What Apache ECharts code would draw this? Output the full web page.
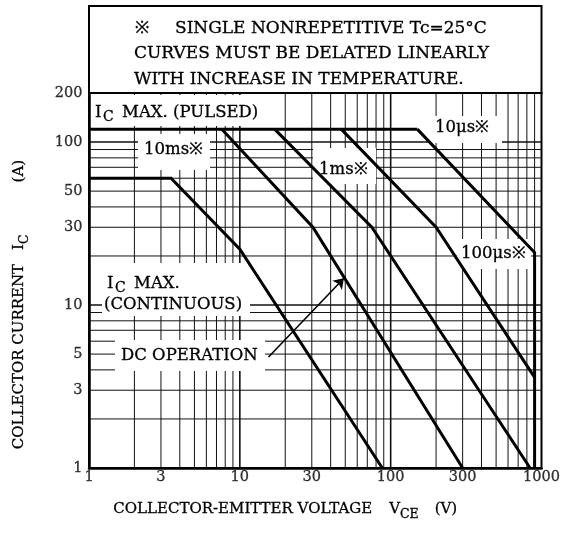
<!DOCTYPE html>
<html>
<head>
<meta charset="utf-8">
<script src="https://cdn.jsdelivr.net/npm/echarts@6/dist/echarts.min.js"></script>
<style>html,body{margin:0;padding:0;background:#fff}#c{width:564px;height:533px}</style>
</head>
<body>
<div id="c"></div>
<script>
// ---- data ----
const xTickValues = [1, 3, 10, 30, 100, 300, 1000];
const yTickValues = [1, 3, 5, 10, 30, 50, 100, 200];
const xGridMinor = [2,3,4,5,6,7,8,9,20,30,40,50,60,70,80,90,200,300,400,500,600,700,800,900];
const xGridMajor = [10, 100];
const yGridMinor = [2,3,4,5,6,7,8,9,20,30,40,50,60,70,80,90];
const yGridMajor = [10, 100];
const icMaxPulsed = [[1, 120], [150, 120]];
const dcOperation = [[1, 60], [3.5, 60], [10, 22], [88, 1]];
const pulse10ms = [[7.6, 120], [30.5, 30], [300, 1]];
const pulse1ms = [[17, 120], [75, 30], [840, 1]];
const pulse100us = [[47, 120], [200, 30], [900, 3.6]];
const pulse10us = [[150, 120], [900, 21], [900, 1]];
const dcArrow = [[15.5, 4.8], [49, 14.6]];

const FONT = 'DejaVu Serif';
const X_MIN = 1, X_MAX = 1000, Y_MIN = 1, Y_MAX = 200;

const chart = echarts.init(document.getElementById('c'), null, {renderer: 'canvas'});

const series = [];
function gridSeries(vals, vertical, width) {
  vals.forEach(v => {
    series.push({
      type: 'line', silent: true, symbol: 'none', z: 1, animation: false,
      data: vertical ? [[v, Y_MIN], [v, Y_MAX]] : [[X_MIN, v], [X_MAX, v]],
      lineStyle: {color: '#111', width: width}
    });
  });
}
gridSeries(xGridMinor, true, 1);
gridSeries(xGridMajor, true, 1.6);
gridSeries(yGridMinor, false, 1);
gridSeries(yGridMajor, false, 1.6);

[icMaxPulsed, dcOperation, pulse10ms, pulse1ms, pulse100us, pulse10us].forEach(d => {
  series.push({
    type: 'line', silent: true, symbol: 'none', z: 5, animation: false,
    data: d, lineStyle: {color: '#000', width: 3, join: 'miter'}
  });
});

series.push({
  type: 'lines', coordinateSystem: 'cartesian2d', z: 5, silent: true, animation: false,
  symbol: ['none', 'arrow'], symbolSize: 10,
  lineStyle: {color: '#000', width: 1.6, opacity: 1},
  data: [{coords: dcArrow}]
});

const tickFont = {fontFamily: FONT, fontSize: 14.5, color: '#000', textBorderColor: '#000', textBorderWidth: 0.3};
series.push({
  type: 'scatter', silent: true, clip: false, z: 5, animation: false,
  symbolSize: 1, itemStyle: {color: 'transparent'},
  data: xTickValues.map(v => [v, Y_MIN]),
  label: Object.assign({show: true, position: 'bottom', distance: 1,
    formatter: p => String(p.value[0])}, tickFont)
});
series.push({
  type: 'scatter', silent: true, clip: false, z: 5, animation: false,
  symbolSize: 1, itemStyle: {color: 'transparent'},
  data: yTickValues.map(v => [X_MIN, v]),
  label: Object.assign({show: true, position: 'left', distance: 6,
    formatter: p => String(p.value[1])}, tickFont)
});

const richAxis = {
  n: {fontFamily: FONT, fontSize: 15, color: '#000', lineHeight: 23, verticalAlign: 'middle',
      textBorderColor: '#000', textBorderWidth: 0.3},
  s: {fontFamily: FONT, fontSize: 12.5, color: '#000', verticalAlign: 'bottom',
      textBorderColor: '#000', textBorderWidth: 0.3},
  g1: {width: 17, fontSize: 15, lineHeight: 23},
  g2: {width: 16, fontSize: 15, lineHeight: 23},
  h1: {width: 14, fontSize: 15, lineHeight: 23},
  h2: {width: 52, fontSize: 15, lineHeight: 23}
};

function whiteBox(x, y, w, h) {
  return {type: 'rect', z: 3, silent: true, shape: {x: x, y: y, width: w, height: h},
    style: {fill: '#fff'}};
}
function txt(x, y, text, size) {
  return {type: 'text', z: 4, silent: true,
    style: {x: x, y: y, text: text, fill: '#000', stroke: '#000', lineWidth: 0.3,
      font: size + 'px "' + FONT + '"', align: 'left', verticalAlign: 'middle'}};
}
const BOX = 17, LBL = 16.5, SUB = 14;

const graphics = [
  {type: 'rect', z: 3, silent: true, shape: {x: 89, y: 6, width: 452.5, height: 87},
    style: {fill: '#fff', stroke: '#000', lineWidth: 2}},
  txt(135, 29, '※', BOX),
  txt(175, 29, 'SINGLE NONREPETITIVE Tc=25°C', BOX),
  txt(134, 54, 'CURVES MUST BE DELATED LINEARLY', BOX),
  txt(134, 80, 'WITH INCREASE IN TEMPERATURE.', BOX),

  whiteBox(91, 95, 171, 31),
  txt(95, 113, 'I', LBL), txt(103, 117, 'C', SUB), txt(122, 113, 'MAX. (PULSED)', LBL),
  whiteBox(138, 134, 72, 36),
  txt(144, 150, '10ms※', LBL),
  whiteBox(313, 148, 63, 36),
  txt(319, 170, '1ms※', LBL),
  whiteBox(430, 116, 72, 27),
  txt(435, 128, '10μs※', LBL),
  whiteBox(457, 239, 74, 30),
  txt(461, 254, '100μs※', LBL),
  whiteBox(102, 263, 148, 53),
  txt(107, 284, 'I', LBL), txt(115, 288, 'C', SUB), txt(134, 284, 'MAX.', LBL),
  txt(104, 305, '(CONTINUOUS)', LBL),
  whiteBox(115, 340, 150, 31),
  txt(121, 356, 'DC OPERATION', LBL)
];

const option = {
  animation: false,
  textStyle: {fontFamily: FONT},
  grid: {left: 89, right: 22.5, top: 93, bottom: 65, show: true, borderColor: '#000', borderWidth: 2, backgroundColor: '#fff'},
  xAxis: {
    type: 'log', logBase: 10, min: X_MIN, max: X_MAX,
    axisLine: {show: true, lineStyle: {color: '#000', width: 2.5}},
    axisTick: {show: false}, axisLabel: {show: false}, splitLine: {show: false},
    name: '{n|COLLECTOR-EMITTER VOLTAGE}{g1| }{n|V}{s|CE}{g2| }{n|(V)}',
    nameLocation: 'middle', nameGap: 30,
    nameTextStyle: {rich: richAxis, padding: [0, 60, 0, 0]}
  },
  yAxis: {
    type: 'log', logBase: 10, min: Y_MIN, max: Y_MAX,
    axisLine: {show: true, lineStyle: {color: '#000', width: 2.5}},
    axisTick: {show: false}, axisLabel: {show: false}, splitLine: {show: false},
    name: '{n|COLLECTOR CURRENT}{h1| }{n|I}{s|C}{h2| }{n|(A)}',
    nameLocation: 'middle', nameRotate: 90, nameGap: 58,
    nameTextStyle: {rich: richAxis, padding: [0, 48, 0, 0]}
  },
  graphic: {elements: graphics},
  series: series
};
chart.setOption(option);
</script>
</body>
</html>
